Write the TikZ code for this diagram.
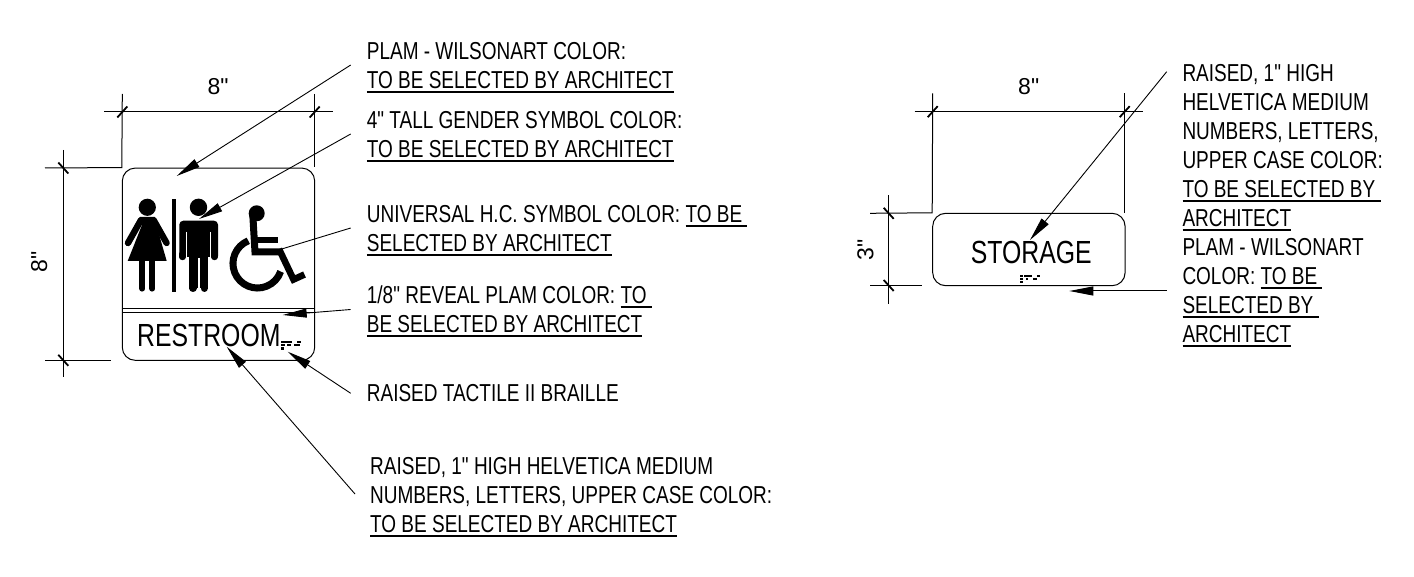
\documentclass[tikz,border=0pt]{standalone}
\usepackage{fontspec}
\usetikzlibrary{arrows.meta}
\setmainfont{Liberation Sans}
\newfontfamily\narrowfont[FakeStretch=0.775]{Liberation Sans}
\newfontfamily\dimfont{Liberation Sans}
\newcommand*{\undertext}[1]{\setbox0=\hbox{#1}\rlap{\rule[-4.6pt]{\wd0}{1.9pt}}\box0}
\tikzset{
  notetext/.style={anchor=base west,inner sep=0pt,align=left,font=\fontsize{24.5}{29}\selectfont\narrowfont},
  signtext/.style={anchor=base west,inner sep=0pt,font=\fontsize{32}{32}\selectfont\narrowfont},
  dimtext/.style={anchor=base,inner sep=0pt,font=\fontsize{23}{23}\selectfont\dimfont},
  signbox/.style={draw,rounded corners=13,inner sep=0pt,line width=1},
  dimline/.style={line width=1},
  tickline/.style={line width=1.8},
  leader/.style={line width=.9,-{Triangle[length=24,width=9]}},
  limb/.style={line width=6.4,line cap=round}
}
\begin{document}
\begin{tikzpicture}[x=1pt,y=-1pt]
\useasboundingbox (0,0) rectangle (1414,577);
% restroom sign
\node (signa) [signbox,minimum width=192.4,minimum height=192.3] at (218.5,264.2) {};
\draw [line width=1] (signa.west |- 0,309) -- (signa.east |- 0,309);
\draw [line width=1] (signa.west |- 0,312.5) -- (signa.east |- 0,312.5);
\node (restroom) [signtext] at (137,346.7) {RESTROOM};
\foreach \x/\y/\w in {281/340.6/11,297/340.6/3.5,281/344/4,287/344/4,294/344/6,281/347.4/3.2}
  \fill (\x,\y) rectangle ++(\w,2.4);
% woman
\fill (147.3,207.3) circle (8.6);
\fill [line join=round] (141,217) -- (154,217) -- (166.7,261) -- (127.7,261) -- (142,225) -- cycle;
\draw [limb] (141,220) -- (128,243);
\draw [limb] (153.6,220) -- (166.6,243);
\draw [limb,line width=6,line cap=butt] (142.3,258) -- (142.3,288);
\draw [limb,line width=6,line cap=butt] (152.3,258) -- (152.3,288);
\draw [limb,line width=6] (142.3,288) -- (142.3,288.6);
\draw [limb,line width=6] (152.3,288) -- (152.3,288.6);
% divider
\fill (172,198.7) rectangle (176,291.7);
% man
\fill (198.5,207.3) circle (8.7);
\fill [rounded corners=4] (179.3,260) -- (179.3,220.7) -- (218,220.7) -- (218,260) -- cycle;
\fill (189.3,255) rectangle (207.9,288);
\draw [white,line width=1.2] (186.6,232) -- (186.6,262);
\draw [white,line width=1.2] (210.8,232) -- (210.8,262);
\draw [white,line width=2] (198.5,258) -- (198.5,292);
\draw [limb,line width=7.4] (193,288) -- (193,288.3);
\draw [limb,line width=7.4] (204.2,288) -- (204.2,288.3);
\fill [white] (178,257) rectangle (189,263);
\fill [white] (208,257) rectangle (219,263);
\draw [limb] (182.6,254) -- (182.6,257);
\draw [limb] (214.6,254) -- (214.6,257);
% wheelchair
\fill (256.7,213.3) circle (8);
\draw [line width=7] (248.3,240.8) arc (248:19:24.5);
\draw [line width=7,line join=miter] (252.8,215) -- (255,252) -- (280.5,252);
\draw [line width=6.6] (256,240) -- (278,240);
\draw [line width=6.6,line join=miter] (279,249) -- (293.5,279.5) -- (304.5,274.5);
% storage sign
\node (signb) [signbox,minimum width=192.4,minimum height=72.4] at (1028.9,249.5) {};
\node (storage) [signtext] at (970.7,263.3) {STORAGE};
\foreach \x/\y/\w in {1020/274.8/3.4,1024.4/274.8/7.3,1036.7/274.8/2.8,1020/277.6/3.2,1026/277.6/2.2,1033/277.6/3.7,1020/280.6/3}
  \fill (\x,\y) rectangle ++(\w,2.2);
% dimensions, restroom sign
\coordinate (dimaw) at (122.3,112);
\coordinate (dimae) at (314.7,112);
\coordinate (dimat) at (63.3,168);
\coordinate (dimab) at (63.3,360.3);
\coordinate (extan) at (122.3,94);
\coordinate (extae) at (314.7,94);
\coordinate (extaf) at (314.7,167);
\coordinate (extas) at (45,168);
\coordinate (extat) at (45,360.3);
\coordinate (extau) at (110.7,360.3);
\draw [dimline] (extan) -- (signa.north west) -- (extas);
\draw [dimline] (extae) -- (extaf);
\draw [dimline] (extat) -- (extau);
\draw [dimline] ([xshift=-18]dimaw) -- ([xshift=18]dimae);
\draw [dimline,line width=.8] ([yshift=18]dimat) -- ([yshift=-17]dimab);
\node (widtha) [dimtext] at (218,94.4) {8"};
\node (heighta) [dimtext,rotate=90] at (47,262) {8"};
% dimensions, storage sign
\coordinate (dimbw) at (932.7,111.7);
\coordinate (dimbe) at (1124.7,111.7);
\coordinate (dimbt) at (888.7,213.3);
\coordinate (dimbb) at (888.7,285.5);
\coordinate (extbn) at (932.7,93.3);
\coordinate (extbe) at (1124.7,93.3);
\coordinate (extbf) at (1124.7,212.7);
\coordinate (extbs) at (870,213.3);
\coordinate (extbt) at (870,285.5);
\coordinate (extbu) at (921.7,285.5);
\draw [dimline] (extbn) -- (signb.north west) -- (extbs);
\draw [dimline] (extbe) -- (extbf);
\draw [dimline] (extbt) -- (extbu);
\draw [dimline] ([xshift=-18]dimbw) -- ([xshift=18]dimbe);
\draw [dimline,line width=.8] ([yshift=18]dimbt) -- ([yshift=-18.5]dimbb);
\node (widthb) [dimtext] at (1028.7,94.4) {8"};
\node (heightb) [dimtext,rotate=90] at (873.3,250) {3"};
\foreach \n in {dimaw,dimae,dimbw,dimbe}
  \draw [tickline] ([shift={(-5,5.5)}]\n) -- ([shift={(5,-5.5)}]\n);
\foreach \n in {dimat,dimab,dimbt,dimbb}
  \draw [tickline] ([shift={(-5,-5.5)}]\n) -- ([shift={(5,5.5)}]\n);
% notes
\node (notea) [notetext] at (366.7,88.3) {PLAM - WILSONART COLOR:\\\undertext{TO BE SELECTED BY ARCHITECT}};
\node (noteb) [notetext] at (366.7,157.5) {4" TALL GENDER SYMBOL COLOR:\\\undertext{TO BE SELECTED BY ARCHITECT}};
\node (notec) [notetext] at (366.7,251.7) {UNIVERSAL H.C. SYMBOL COLOR: \undertext{TO BE\ }\\\undertext{SELECTED BY ARCHITECT}};
\node (noted) [notetext] at (366.7,332.7) {1/8" REVEAL PLAM COLOR: \undertext{TO\ }\\\undertext{BE SELECTED BY ARCHITECT}};
\node (notee) [notetext] at (366.7,401.7) {RAISED TACTILE II BRAILLE};
\node (notef) [notetext] at (370,532.3) {RAISED, 1" HIGH HELVETICA MEDIUM\\NUMBERS, LETTERS, UPPER CASE COLOR:\\\undertext{TO BE SELECTED BY ARCHITECT}};
\node (noteg) [notetext] at (1182.3,342.3) {RAISED, 1" HIGH\\HELVETICA MEDIUM\\NUMBERS, LETTERS,\\UPPER CASE COLOR:\\\undertext{TO BE SELECTED BY\ }\\\undertext{ARCHITECT}\\PLAM - WILSONART\\COLOR: \undertext{TO BE\ }\\\undertext{SELECTED BY\ }\\\undertext{ARCHITECT}};
% leaders
\coordinate (starta) at (350.7,65);
\coordinate (tipa) at (176.7,176);
\coordinate (startb) at (350.7,134);
\coordinate (tipb) at (199,219);
\coordinate (startc) at (350.7,228);
\coordinate (tipc) at (281.7,249);
\coordinate (startd) at (350.7,309.5);
\coordinate (tipd) at (282.7,315);
\coordinate (starte) at (350.7,393.3);
\coordinate (tipe) at (287.7,351.7);
\coordinate (startf) at (355,494);
\coordinate (tipf) at (226.7,346.7);
\coordinate (startg) at (1166.7,71.7);
\coordinate (tipg) at (1030,240);
\coordinate (starth) at (1166.7,291);
\coordinate (tiph) at (1069.3,291);
\foreach \n in {a,b,d,e,f,g}
  \draw [leader] (start\n) -- (tip\n);
\draw [line width=.9] (startc) -- (tipc);
\draw [leader,line width=1] (starth) -- (tiph);
\end{tikzpicture}
\end{document}
